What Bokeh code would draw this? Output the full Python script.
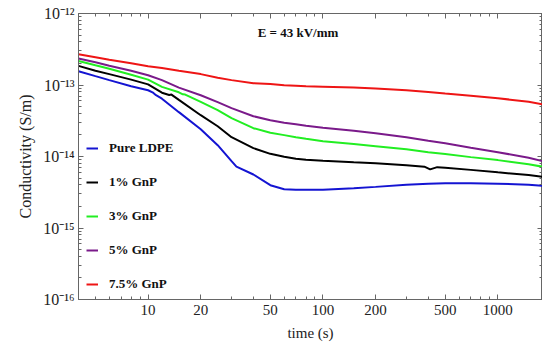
from bokeh.plotting import figure
from bokeh.models import (LogAxis, FixedTicker, CustomJSTickFormatter, Legend,
                          LegendItem, Label, Range1d)
from bokeh.embed import file_html
from bokeh.resources import INLINE

# ---- data ----
t_common = [4, 5, 6, 8, 10, 12, 15, 20, 25, 30, 40, 50, 60, 70, 80, 100,
            150, 200, 300, 400, 500, 700, 1000, 1500, 1800]

red_75 = [2.70e-13, 2.45e-13, 2.26e-13, 2.02e-13, 1.83e-13, 1.73e-13, 1.58e-13,
          1.42e-13, 1.26e-13, 1.17e-13, 1.06e-13, 1.03e-13, 9.9e-14, 9.8e-14,
          9.6e-14, 9.46e-14, 9.2e-14, 8.9e-14, 8.45e-14, 8.0e-14, 7.6e-14,
          7.08e-14, 6.53e-14, 5.83e-14, 5.38e-14]

purple_5 = [2.35e-13, 2.08e-13, 1.86e-13, 1.58e-13, 1.37e-13, 1.17e-13, 9.2e-14,
            7.2e-14, 5.75e-14, 4.74e-14, 3.66e-14, 3.22e-14, 2.97e-14, 2.83e-14,
            2.70e-14, 2.53e-14, 2.30e-14, 2.12e-14, 1.86e-14, 1.66e-14, 1.53e-14,
            1.33e-14, 1.15e-14, 9.6e-15, 8.6e-15]

t_green = [4, 5, 6, 8, 10, 12, 15, 15.8, 16.3, 20, 25, 30, 40, 50, 60, 70, 80,
           100, 150, 200, 300, 400, 500, 700, 1000, 1500, 1800]
green_3 = [2.17e-13, 1.89e-13, 1.69e-13, 1.39e-13, 1.19e-13, 9.4e-14, 7.9e-14,
           7.4e-14, 7.35e-14, 5.8e-14, 4.45e-14, 3.44e-14, 2.49e-14, 2.15e-14,
           1.99e-14, 1.86e-14, 1.77e-14, 1.64e-14, 1.49e-14, 1.39e-14, 1.26e-14,
           1.15e-14, 1.08e-14, 9.8e-15, 8.9e-15, 7.8e-15, 7.2e-15]

t_black = [4, 5, 6, 8, 10, 12, 13.2, 13.6, 15, 20, 25, 30, 40, 50, 60, 70, 80, 100,
           150, 200, 300, 380, 410, 450, 500, 700, 1000, 1500, 1800]
black_1 = [1.85e-13, 1.58e-13, 1.42e-13, 1.19e-13, 1.02e-13, 7.8e-14, 7.25e-14,
           7.35e-14, 6.2e-14, 3.78e-14, 2.65e-14, 1.86e-14, 1.31e-14, 1.09e-14,
           9.9e-15, 9.3e-15, 9.0e-15, 8.7e-15, 8.3e-15, 8.05e-15, 7.55e-15,
           7.2e-15, 6.6e-15, 7.1e-15, 6.97e-15, 6.5e-15, 6.0e-15, 5.5e-15, 5.2e-15]

t_blue = [4, 5, 6, 8, 10, 10.6, 11.1, 12, 15, 20, 25, 30, 32, 40, 50, 60, 70, 80,
          100, 150, 200, 300, 400, 500, 700, 1000, 1500, 1800]
blue_ldpe = [1.56e-13, 1.33e-13, 1.17e-13, 9.6e-14, 8.45e-14, 7.9e-14, 7.2e-14,
             6.43e-14, 4.17e-14, 2.41e-14, 1.44e-14, 8.6e-15, 7.2e-15, 5.6e-15,
             3.97e-15, 3.49e-15, 3.44e-15, 3.44e-15, 3.44e-15, 3.6e-15, 3.76e-15,
             4.03e-15, 4.17e-15, 4.24e-15, 4.24e-15, 4.17e-15, 4.03e-15, 3.88e-15]

legend_labels = ["Pure LDPE", "1% GnP", "3% GnP", "5% GnP", "7.5% GnP"]
x_major = [10, 20, 50, 100, 200, 500, 1000]
x_minor = [5, 6, 7, 8, 9, 30, 40, 60, 70, 80, 90, 300, 400, 600, 700, 800, 900]
y_major = [1e-16, 1e-15, 1e-14, 1e-13, 1e-12]
y_minor = [m * 10.0 ** e for e in range(-16, -12) for m in range(2, 10)]
title_text = "E = 43 kV/mm"

SERIF = "Liberation Serif"
AX = "#666666"

p = figure(width=542, height=343, x_axis_type="log", y_axis_type="log",
           x_range=Range1d(4, 1800), y_range=Range1d(1e-16, 1e-12),
           output_backend="svg", toolbar_location=None,
           min_border_left=78, min_border_right=0, min_border_top=13,
           min_border_bottom=44)
p.background_fill_color = "white"
p.border_fill_color = "white"
p.outline_line_color = AX
p.grid.visible = False

xt = FixedTicker(ticks=x_major, minor_ticks=x_minor)
yt = FixedTicker(ticks=y_major, minor_ticks=y_minor)
xfmt = CustomJSTickFormatter(code="return String(Math.round(tick));")
yfmt = CustomJSTickFormatter(code="""
const e = Math.round(Math.log10(tick));
const sup = {'-':'\u207b','0':'\u2070','1':'\u00b9','2':'\u00b2','3':'\u00b3',
             '4':'\u2074','5':'\u2075','6':'\u2076','7':'\u2077','8':'\u2078','9':'\u2079'};
return '10' + String(e).split('').map(c => sup[c]).join('');
""")

def style_axis(ax):
    ax.axis_line_color = AX
    ax.major_tick_line_color = AX
    ax.minor_tick_line_color = AX
    ax.major_tick_in = 5
    ax.major_tick_out = 0
    ax.minor_tick_in = 3
    ax.minor_tick_out = 0

xa = p.xaxis[0]
xa.ticker = xt
xa.formatter = xfmt
style_axis(xa)
xa.major_label_text_font = SERIF
xa.major_label_text_font_size = "15px"
xa.major_label_text_color = "#222222"
xa.major_label_standoff = 5
xa.axis_label = "time (s)"
xa.axis_label_text_font = SERIF
xa.axis_label_text_font_size = "15px"
xa.axis_label_text_font_style = "normal"
xa.axis_label_text_color = "#222222"
xa.axis_label_standoff = 7

ya = p.yaxis[0]
ya.ticker = yt
ya.formatter = yfmt
style_axis(ya)
ya.major_label_text_font = SERIF
ya.major_label_text_font_size = "16px"
ya.major_label_text_color = "#222222"
ya.major_label_standoff = 4
ya.axis_label = "Conductivity (S/m)"
ya.axis_label_text_font = SERIF
ya.axis_label_text_font_size = "16px"
ya.axis_label_text_font_style = "normal"
ya.axis_label_text_color = "#222222"
ya.axis_label_standoff = 6

blank = CustomJSTickFormatter(code="return '';")
top = LogAxis(ticker=FixedTicker(ticks=x_major, minor_ticks=x_minor), formatter=blank)
right = LogAxis(ticker=FixedTicker(ticks=y_major, minor_ticks=y_minor), formatter=blank)
for ax in (top, right):
    style_axis(ax)
    ax.major_label_standoff = 0
p.add_layout(top, "above")
p.add_layout(right, "right")

lw = 2
r_blue = p.line(t_blue, blue_ldpe, line_color="#1414d2", line_width=lw)
r_black = p.line(t_black, black_1, line_color="#000000", line_width=lw)
r_green = p.line(t_green, green_3, line_color="#22ee22", line_width=lw)
r_purple = p.line(t_common, purple_5, line_color="#7a1a8a", line_width=lw)
r_red = p.line(t_common, red_75, line_color="#ee1515", line_width=lw)

items = [LegendItem(label=lab, renderers=[r]) for lab, r in
         zip(legend_labels, [r_blue, r_black, r_green, r_purple, r_red])]
legend = Legend(items=items, location=(8, 5), glyph_width=12, glyph_height=20,
                label_height=20, label_standoff=11, spacing=14, padding=4,
                margin=0, border_line_color=None, background_fill_alpha=0,
                label_text_font=SERIF, label_text_font_style="bold",
                label_text_font_size="13px", label_text_color="#111111")
p.add_layout(legend, "center")

p.add_layout(Label(x=72, y=5.5e-13, text=title_text, text_font=SERIF,
                   text_font_style="bold", text_font_size="13px",
                   text_align="center", text_baseline="middle",
                   text_color="#111111"))

open("out.html", "w").write(file_html(p, INLINE))
